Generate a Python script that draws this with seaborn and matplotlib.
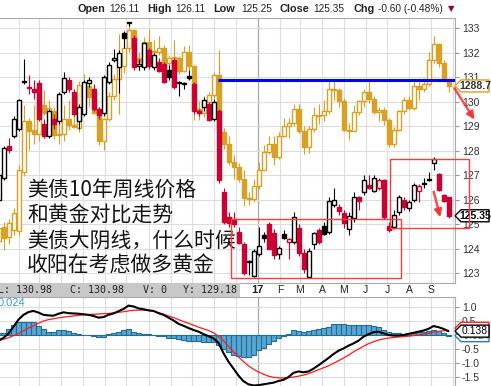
import numpy as np
import pandas as pd
import seaborn as sns
import matplotlib.pyplot as plt
import matplotlib.patches as mpatches
import matplotlib.transforms as mtransforms

W, H = 491, 386

# === Weekly bars, Jan 2016 - Sep 2017 ===
weeks = pd.date_range('2016-01-04', periods=91, freq='7D')

# 10y T-note futures, weekly OHLC
bond_open = [126.0, 126.9, 128.2, 128.6, 128.9, 130.8, 130.6, 130.5, 130.75, 129.1,
             128.6, 129.3, 129.2, 130.4, 130.9, 130.4, 129.2, 129.5, 130.75, 130.5,
             129.7, 129.55, 130.8, 131.7, 131.4, 132.8, 133.2, 132.6, 131.45, 131.4,
             132.1, 131.4, 131.6, 131.55, 131.3, 131.7, 130.8, 130.7, 131.05, 130.7,
             129.6, 129.8, 129.9, 129.3, 129.6, 126.3, 125.3, 125.2, 124.7, 124.2,
             123.5, 122.9, 123.8, 124.55, 125.0, 124.65, 123.8, 124.6, 124.3, 124.3,
             124.85, 123.85, 122.85, 124.2, 124.75, 124.95, 124.7, 125.8, 125.7, 125.45,
             124.8, 125.25, 126.1, 126.3, 126.6, 126.35, 126.5, 126.8, 124.95, 124.9,
             125.5, 126.0, 125.65, 126.0, 126.35, 126.65, 126.8, 127.5, 127.05, 126.2,
             126.11]
bond_high = [127.1, 128.2, 128.5, 129.4, 130.1, 131.75, 131.1, 130.9, 130.9, 129.3,
             129.7, 129.5, 130.4, 131.2, 131.0, 130.5, 129.9, 130.9, 131.0, 130.7,
             129.8, 131.1, 131.6, 132.15, 132.1, 132.9, 133.25, 132.7, 131.75, 132.45,
             132.2, 132.0, 131.8, 131.6, 131.5, 131.8, 130.85, 130.8, 131.3, 130.8,
             129.7, 130.2, 130.0, 130.1, 129.7, 126.5, 125.5, 125.5, 124.9, 124.3,
             123.55, 124.0, 124.9, 124.7, 125.1, 124.8, 124.1, 124.75, 124.45, 125.5,
             125.0, 124.0, 124.05, 124.7, 124.85, 125.1, 126.1, 126.5, 125.85, 125.6,
             125.5, 126.3, 126.15, 127.0, 127.0, 127.0, 126.9, 126.85, 125.1, 125.6,
             126.2, 126.1, 126.0, 126.7, 126.65, 126.9, 127.13, 127.75, 127.1, 126.25,
             126.11]
bond_low = [125.8, 126.8, 127.9, 128.5, 128.8, 130.7, 130.3, 130.1, 129.2, 128.5,
            128.5, 128.9, 129.1, 130.3, 130.4, 129.4, 128.9, 129.4, 130.6, 129.6,
            129.3, 129.4, 130.7, 131.6, 130.35, 132.2, 133.1, 131.3, 131.3, 131.3,
            131.35, 131.3, 131.2, 130.75, 130.9, 130.5, 130.25, 130.5, 130.9, 129.5,
            129.4, 129.6, 129.2, 129.2, 126.7, 125.0, 124.9, 124.9, 124.2, 122.95,
            122.95, 122.85, 123.7, 124.3, 124.0, 123.6, 123.6, 124.4, 123.6, 124.2,
            123.7, 123.0, 122.8, 124.0, 124.2, 124.55, 124.6, 125.7, 125.4, 124.85,
            124.55, 125.1, 125.6, 126.2, 126.45, 126.3, 126.4, 125.2, 124.7, 124.8,
            125.4, 125.6, 125.55, 125.9, 125.9, 126.5, 126.75, 127.2, 126.35, 125.9,
            125.25]
bond_close = [127.0, 128.1, 128.05, 129.3, 130.05, 130.85, 130.55, 130.4, 129.3, 128.6,
              129.6, 129.1, 130.3, 130.95, 130.5, 129.5, 129.8, 130.8, 130.9, 129.7,
              129.45, 131.0, 131.5, 131.8, 132.0, 132.6, 133.2, 131.4, 131.55, 132.4,
              131.45, 131.9, 131.25, 130.8, 131.0, 130.6, 130.75, 130.76, 130.95, 129.6,
              129.55, 130.05, 129.25, 130.0, 126.8, 125.1, 125.05, 125.0, 124.25, 123.0,
              123.45, 123.9, 124.1, 124.45, 124.0, 123.75, 124.05, 124.45, 124.4, 125.3,
              123.85, 123.2, 123.9, 124.65, 124.3, 124.6, 125.95, 126.0, 125.55, 125.05,
              125.35, 126.1, 125.97, 126.8, 126.5, 126.9, 126.82, 125.3, 124.75, 125.4,
              126.1, 125.7, 125.9, 126.6, 126.55, 126.7, 126.82, 127.65, 126.4, 125.95,
              125.35]

# gold, weekly OHLC (USD), overlaid on the same chart
gold_open = [1075, 1094, 1080, 1090, 1088, 1170, 1240, 1228, 1222, 1262,
             1252, 1254, 1221, 1222, 1243, 1235, 1231, 1290, 1289, 1273,
             1252, 1213, 1243, 1275, 1298, 1316, 1341, 1366, 1327, 1322,
             1350, 1336, 1336, 1341, 1321, 1327, 1328, 1310, 1336, 1316,
             1257, 1251, 1266, 1276, 1304, 1225, 1208, 1183, 1177, 1160,
             1134, 1133, 1151, 1173, 1197, 1209, 1191, 1220, 1234, 1238,
             1257, 1226, 1204, 1229, 1249, 1248, 1254, 1285, 1283, 1268,
             1228, 1227, 1253, 1268, 1280, 1271, 1253, 1256, 1242, 1209,
             1228, 1254, 1269, 1258, 1289, 1285, 1292, 1325, 1346, 1320,
             1297]
gold_high = [1097, 1101, 1105, 1120, 1180, 1262, 1245, 1262, 1280, 1283,
             1270, 1260, 1245, 1262, 1270, 1272, 1295, 1305, 1290, 1290,
             1260, 1245, 1280, 1305, 1360, 1345, 1375, 1367, 1335, 1357,
             1368, 1352, 1358, 1345, 1331, 1352, 1330, 1344, 1345, 1318,
             1268, 1275, 1280, 1308, 1338, 1230, 1220, 1193, 1182, 1172,
             1142, 1160, 1184, 1207, 1220, 1220, 1225, 1245, 1245, 1264,
             1264, 1233, 1233, 1260, 1264, 1270, 1295, 1296, 1286, 1272,
             1237, 1262, 1270, 1285, 1296, 1275, 1260, 1260, 1245, 1232,
             1256, 1274, 1275, 1295, 1300, 1300, 1336, 1358, 1348, 1325,
             1300]
gold_low = [1062, 1062, 1070, 1083, 1082, 1165, 1200, 1208, 1212, 1248,
            1228, 1215, 1208, 1212, 1228, 1230, 1225, 1265, 1260, 1250,
            1207, 1200, 1240, 1270, 1250, 1307, 1336, 1320, 1310, 1312,
            1332, 1330, 1332, 1315, 1300, 1320, 1305, 1308, 1311, 1241,
            1241, 1246, 1260, 1272, 1220, 1201, 1180, 1160, 1156, 1123,
            1124, 1128, 1146, 1172, 1195, 1180, 1188, 1218, 1217, 1234,
            1224, 1195, 1196, 1225, 1236, 1240, 1250, 1270, 1260, 1226,
            1214, 1226, 1248, 1260, 1265, 1250, 1240, 1235, 1205, 1204,
            1226, 1250, 1255, 1256, 1270, 1280, 1288, 1321, 1315, 1294,
            1280]
gold_close = [1093, 1078, 1100, 1113, 1172, 1240, 1226, 1222, 1270, 1252,
              1258, 1221, 1223, 1243, 1235, 1232, 1290, 1289, 1273, 1252,
              1213, 1243, 1275, 1298, 1316, 1341, 1366, 1327, 1322, 1350,
              1336, 1337, 1341, 1321, 1327, 1328, 1310, 1336, 1316, 1257,
              1251, 1266, 1276, 1304, 1225, 1208, 1183, 1177, 1160, 1134,
              1133, 1151, 1173, 1197, 1209, 1191, 1220, 1234, 1238, 1257,
              1226, 1204, 1229, 1249, 1247, 1254, 1285, 1283, 1268, 1228,
              1227, 1253, 1268, 1280, 1271, 1253, 1256, 1242, 1209, 1228,
              1254, 1269, 1258, 1289, 1285, 1292, 1325, 1346, 1320, 1297,
              1288.7]

# MACD panel
macd_line = [-0.2, -0.1, 0.05, 0.3, 0.55, 0.72, 0.82, 0.86, 0.8, 0.72,
             0.7, 0.69, 0.76, 0.81, 0.78, 0.77, 0.76, 0.74, 0.72, 0.68,
             0.62, 0.64, 0.72, 0.77, 0.85, 0.93, 1.05, 1.02, 0.95, 0.92,
             0.88, 0.86, 0.78, 0.72, 0.62, 0.52, 0.4, 0.33, 0.25, 0.18,
             0.12, 0.03, -0.04, -0.12, -0.28, -0.65, -0.95, -1.2, -1.45, -1.65,
             -1.76, -1.8, -1.79, -1.76, -1.73, -1.7, -1.64, -1.6, -1.5, -1.35,
             -1.3, -1.33, -1.3, -1.2, -1.08, -0.95, -0.82, -0.68, -0.56, -0.48,
             -0.38, -0.3, -0.2, -0.06, 0.03, 0.1, 0.12, 0.06, 0.0, -0.02,
             -0.02, 0.0, 0.04, 0.08, 0.12, 0.16, 0.22, 0.32, 0.28, 0.22,
             0.138]
signal_line = [-0.2, -0.15, -0.1, -0.02, 0.05, 0.15, 0.25, 0.33, 0.42, 0.5,
               0.55, 0.58, 0.61, 0.64, 0.66, 0.68, 0.7, 0.72, 0.73, 0.74,
               0.75, 0.76, 0.77, 0.79, 0.81, 0.83, 0.86, 0.88, 0.89, 0.89,
               0.88, 0.85, 0.8, 0.74, 0.68, 0.62, 0.55, 0.48, 0.42, 0.35,
               0.28, 0.22, 0.16, 0.08, -0.04, -0.2, -0.4, -0.6, -0.78, -0.95,
               -1.1, -1.22, -1.32, -1.4, -1.47, -1.51, -1.53, -1.53, -1.52, -1.5,
               -1.47, -1.43, -1.38, -1.31, -1.24, -1.17, -1.1, -1.01, -0.92, -0.82,
               -0.72, -0.6, -0.5, -0.4, -0.31, -0.24, -0.18, -0.14, -0.11, -0.09,
               -0.07, -0.06, -0.04, -0.02, 0.0, 0.03, 0.06, 0.1, 0.13, 0.15,
               0.162]
macd_hist = [0.06, 0.08, 0.2, 0.35, 0.45, 0.45, 0.45, 0.45, 0.32, 0.2,
             0.12, 0.12, 0.18, 0.18, 0.14, 0.06, 0.02, 0.01, 0.0, -0.02,
             -0.06, -0.06, 0.02, 0.06, 0.12, 0.18, 0.2, 0.12, 0.06, 0.05,
             0.02, 0.0, -0.03, -0.05, -0.1, -0.12, -0.15, -0.18, -0.2, -0.2,
             -0.22, -0.24, -0.25, -0.25, -0.35, -0.5, -0.6, -0.7, -0.76, -0.78,
             -0.77, -0.7, -0.55, -0.45, -0.33, -0.22, -0.12, -0.05, 0.05, 0.18,
             0.15, 0.12, 0.13, 0.18, 0.2, 0.25, 0.3, 0.38, 0.4, 0.38,
             0.36, 0.35, 0.36, 0.36, 0.35, 0.33, 0.28, 0.18, 0.1, 0.07,
             0.06, 0.05, 0.06, 0.08, 0.1, 0.12, 0.15, 0.17, 0.14, 0.08,
             -0.024]

blue_level = 130.88
blue_start = pd.Timestamp('2016-11-06')
gold_ref_level = 130.64      # bond-axis level where gold 1288.7 sits
gold_per_point = 33.9        # gold dollars per bond point on this overlay
month_labels = ['17', 'F', 'M', 'A', 'M', 'J', 'J', 'A', 'S']

title_parts = [('Open', True), (f'{bond_open[-1]:.2f}', False),
               ('High', True), (f'{bond_high[-1]:.2f}', False),
               ('Low', True), (f'{bond_low[-1]:.2f}', False),
               ('Close', True), (f'{bond_close[-1]:.2f}', False),
               ('Chg', True), ('-0.60 (-0.48%)', False)]
title_x = [77, 109, 147, 175, 213, 241, 280, 313, 353, 378]

note_lines = ['美债10年周线价格', '和黄金对比走势', '美债大阴线，什么时候', '收阳在考虑做多黄金']

# === Style ===
sns.set_theme(style='white')
plt.rcParams['font.family'] = ['Liberation Sans', 'DejaVu Sans']
plt.rcParams['axes.unicode_minus'] = False

fig = plt.figure(figsize=(W / 100, H / 100), dpi=100)
ax = fig.add_axes([0, 1 - 283 / H, 455 / W, 265 / H])
axm = fig.add_axes([0, 0, 455 / W, 89 / H])

xs = np.arange(len(weeks))
month_starts = pd.date_range('2016-02-01', '2017-10-01', freq='MS')
month_x = (month_starts - weeks[0]).days / 7
year_x = (pd.Timestamp('2017-01-01') - weeks[0]).days / 7

for a in (ax, axm):
    a.set_xlim(0.3, 91.3)
    a.set_axisbelow(True)
    a.vlines(month_x, -1e4, 1e4, colors='#dddddd', linewidth=0.8, zorder=0)
    a.vlines([year_x], -1e4, 1e4, colors='#a8a8a8', linewidth=0.9, zorder=0)
    a.set_xticks([])
    a.yaxis.tick_right()
    a.tick_params(axis='y', labelsize=7.5, labelcolor='#333333', length=3,
                  color='#999999', pad=2, width=0.8)
    a.spines['left'].set_visible(False)
    for s in ('top', 'bottom', 'right'):
        a.spines[s].set_color('#aaaaaa')
        a.spines[s].set_linewidth(0.8)

ax.set_ylim(122.61, 133.41)
ax.set_yticks(range(123, 134))
ax.grid(axis='y', color='#dddddd', linewidth=0.8)


def draw_candles(a, o, h, l, c, edge, face, z):
    o, h, l, c = map(np.asarray, (o, h, l, c))
    a.vlines(xs, l, h, colors=edge, linewidth=0.8, zorder=z)
    bottoms = np.minimum(o, c)
    heights = np.maximum(np.abs(c - o), 0.04)
    a.bar(xs, heights, 0.8, bottom=bottoms, color=face, edgecolor=edge,
          linewidth=1.0, zorder=z + 0.1)


# gold drawn first, mapped onto the bond scale
to_axis = lambda v: gold_ref_level + (np.asarray(v, dtype=float) - gold_close[-1]) / gold_per_point
gold_col = '#d9a021'
g_face = ['white' if c >= o else gold_col for o, c in zip(gold_open, gold_close)]
draw_candles(ax, to_axis(gold_open), to_axis(gold_high), to_axis(gold_low),
             to_axis(gold_close), gold_col, g_face, 2)

prev = [bond_close[0]] + bond_close[:-1]
b_edge = ['black' if (c >= p or i == 0) else '#cc0033'
          for i, (c, p) in enumerate(zip(bond_close, prev))]
b_face = ['white' if c >= o else e for o, c, e in zip(bond_open, bond_close, b_edge)]
draw_candles(ax, bond_open, bond_high, bond_low, bond_close, b_edge, b_face, 3)

ax.hlines(blue_level, (blue_start - weeks[0]).days / 7, 91.3, colors='#0000ff',
          linewidth=2.2, zorder=5)

# === MACD panel ===
axm.set_ylim(-1.82, 1.357)
axm.set_yticks([-1.5, -1.0, -0.5, 0, 0.5, 1.0])
axm.set_yticklabels(['-1.5', '-1.0', '-0.5', '', '0.5', '1.0'])
axm.grid(axis='y', color='#dddddd', linewidth=0.8)
axm.bar(xs, macd_hist, 1.0, color='#5aa6d2', edgecolor='#1f6e98', linewidth=0.8, zorder=2)
sns.lineplot(x=xs, y=signal_line, ax=axm, color='#ff1a1a', linewidth=0.9, zorder=3)
sns.lineplot(x=xs, y=macd_line, ax=axm, color='black', linewidth=1.5, zorder=4)
axm.text(1.0, -2.0, '  -2.0', transform=mtransforms.blended_transform_factory(axm.transAxes, axm.transData),
         fontsize=7.5, color='#333333', va='center', ha='left', clip_on=False)

fig.canvas.draw()

IDT = mtransforms.IdentityTransform()


def ftext(x, y, s, **kw):
    fig.text(x / W, 1 - y / H, s, **kw)


def tag(a, value, text, edge, tcolor, weight='bold', z=10, x0=455, x1=489, h=12):
    yc = a.transData.transform((1, value))[1]
    pts = [(x0, yc), (x0 + 6, yc + h / 2), (x1, yc + h / 2), (x1, yc - h / 2), (x0 + 6, yc - h / 2)]
    fig.add_artist(mpatches.Polygon(pts, closed=True, facecolor='white', edgecolor=edge,
                                    linewidth=1.0, transform=IDT, zorder=z))
    if text:
        fig.text((x0 + 6 + x1) / 2 / W, yc / H, text, ha='center', va='center', fontsize=7.5,
                 color=tcolor, fontweight=weight, zorder=z + 0.5)


tag(ax, to_axis(gold_close[-1]), f'{gold_close[-1]:.1f}', gold_col, '#333333')
tag(ax, bond_close[-1], f'{bond_close[-1]:.2f}', 'black', 'black')
tag(axm, macd_hist[-1], f'{macd_hist[-1]:.3f}', '#2a7fb0', '#2a7fb0', weight='normal', z=10)
# signal tag sits behind the MACD tag, only its top edge shows
tag(axm, signal_line[-1] + 0.08, '', '#ff1a1a', '#ff1a1a', weight='normal', z=12)
tag(axm, macd_line[-1], f'{macd_line[-1]:.3f}', 'black', 'black', weight='normal', z=14)

# top info line
for (s, bold), x in zip(title_parts, title_x):
    ftext(x, 9, s, fontsize=7.8 if bold else 7.3, fontweight='bold' if bold else 'normal',
          color='#222222', va='center', ha='left')
ftext(448, 9, '▼', fontsize=6, color='#990033', va='center', ha='left', family='DejaVu Sans')

# grey info bar + month labels
fig.add_artist(mpatches.Rectangle((0, H - 297), 240, 14, facecolor='#c8c8c8',
                                  edgecolor='none', transform=IDT, zorder=6))
for s, x in [('L: 130.98', -2), ('C: 130.98', 70), ('V: 0', 143), ('Y: 129.18', 183)]:
    ftext(x, 290, s, fontsize=7.2, family='DejaVu Sans Mono', color='#222222',
          va='center', ha='left', zorder=7)
lab_tr = mtransforms.blended_transform_factory(axm.transData, fig.transFigure)
for lab, mx in zip(month_labels, month_x[11:]):
    axm.text(mx, 1 - 290 / H, lab, transform=lab_tr, ha='center', va='center',
             fontsize=8 if lab == '17' else 7.5, fontweight='bold' if lab == '17' else 'normal',
             color='#222222', clip_on=False)
ftext(-2, 303, '0.024', fontsize=8, color='#3a9ad9', va='center', ha='left')

# notes
for k, line in enumerate(note_lines):
    ftext(27, 190 + 25.3 * k, line, fontsize=15, family=['Noto Sans CJK SC', 'DejaVu Sans'],
          color='#151515', va='center', ha='left', zorder=8)

# red boxes and arrows
for (x0, y0, x1, y1) in [(231, 219, 401, 278), (390, 159, 469, 228)]:
    fig.add_artist(mpatches.Rectangle((x0, H - y1), x1 - x0, y1 - y0, facecolor='none',
                                      edgecolor='#ff3b3b', linewidth=1.0, transform=IDT, zorder=20))
for (xa, ya, xb, yb) in [(453, 86, 476, 122), (433, 189, 441, 220)]:
    fig.add_artist(mpatches.FancyArrowPatch((xa, H - ya), (xb, H - yb), arrowstyle='-|>',
                                            mutation_scale=11, color='#f03434', linewidth=1.8,
                                            alpha=0.85, transform=IDT, zorder=21))

fig.savefig('out.png', dpi=100)
